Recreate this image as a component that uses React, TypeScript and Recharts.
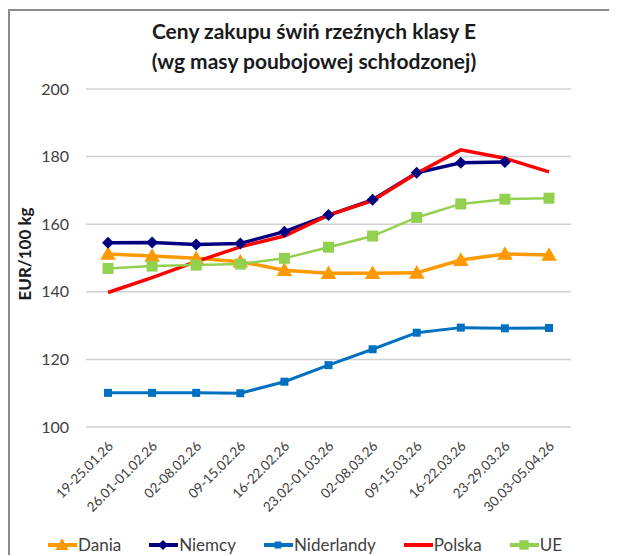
import { LineChart, Line, XAxis, YAxis, CartesianGrid, Legend } from "recharts";

const categories = [
  "19-25.01.26",
  "26.01-01.02.26",
  "02-08.02.26",
  "09-15.02.26",
  "16-22.02.26",
  "23.02-01.03.26",
  "02-08.03.26",
  "09-15.03.26",
  "16-22.03.26",
  "23-29.03.26",
  "30.03-05.04.26",
];
const dania = [151.2, 150.6, 149.9, 148.9, 146.4, 145.5, 145.5, 145.6, 149.4, 151.2, 150.9];
const niemcy = [154.5, 154.6, 154.0, 154.3, 157.8, 162.7, 167.2, 175.2, 178.2, 178.4, null];
const niderlandy = [110.1, 110.1, 110.1, 110.0, 113.4, 118.3, 123.0, 127.9, 129.4, 129.2, 129.3];
const polska = [139.8, 144.2, 148.9, 153.3, 156.5, 162.7, 167.0, 175.1, 182.0, 179.5, 175.5];
const ue = [146.9, 147.6, 147.9, 148.2, 149.9, 153.2, 156.5, 162.0, 166.0, 167.4, 167.7];
const yTicks = [100, 120, 140, 160, 180, 200];

const data = categories.map((c, i) => ({
  name: c,
  Dania: dania[i],
  Niemcy: niemcy[i],
  Niderlandy: niderlandy[i],
  Polska: polska[i],
  UE: ue[i],
}));

const FONT = "Lato, 'Open Sans', sans-serif";
const TEXT = "#404040";

type Shape = "triangle" | "diamond" | "square" | "none";

function markerPath(shape: Shape, cx: number, cy: number, s: number): string | null {
  if (shape === "triangle") {
    return `M${cx},${cy - s * 0.6} L${cx + s * 0.6},${cy + s * 0.45} L${cx - s * 0.6},${cy + s * 0.45} Z`;
  }
  if (shape === "diamond") {
    return `M${cx},${cy - s / 2} L${cx + s / 2},${cy} L${cx},${cy + s / 2} L${cx - s / 2},${cy} Z`;
  }
  if (shape === "square") {
    return `M${cx - s / 2},${cy - s / 2} h${s} v${s} h${-s} Z`;
  }
  return null;
}

function makeDot(shape: Shape, size: number, color: string) {
  return (props: any) => {
    const { cx, cy, index, value } = props;
    if (cx == null || cy == null || value == null) return <g key={index} />;
    const d = markerPath(shape, cx, cy, size);
    if (!d) return <g key={index} />;
    return <path key={index} d={d} fill={color} />;
  };
}

const series = [
  { key: "Dania", color: "#FF9900", width: 3.5, shape: "triangle" as Shape, size: 13 },
  { key: "Niemcy", color: "#000080", width: 3.5, shape: "diamond" as Shape, size: 12 },
  { key: "Niderlandy", color: "#0070C0", width: 3, shape: "square" as Shape, size: 8 },
  { key: "Polska", color: "#FF0000", width: 3.5, shape: "none" as Shape, size: 0 },
  { key: "UE", color: "#92D050", width: 2.5, shape: "square" as Shape, size: 11 },
];

function XTick(props: any) {
  const { x, y, payload } = props;
  const ax = x + 6;
  const ay = y + 12;
  return (
    <text
      x={ax}
      y={ay}
      transform={`rotate(-45, ${ax}, ${ay})`}
      textAnchor="end"
      fontSize={13.5}
      fontFamily={FONT}
      fill={TEXT}
    >
      {payload.value}
    </text>
  );
}

function LegendContent() {
  return (
    <div style={{ display: "flex", paddingLeft: 38, fontFamily: FONT, fontSize: 17, color: TEXT }}>
      {series.map((s) => {
        const d = markerPath(s.shape, 14, 10, s.size * 0.85);
        return (
          <div key={s.key} style={{ display: "flex", alignItems: "center", marginRight: 28 }}>
            <svg width={29} height={20}>
              <line x1={0} y1={10} x2={29} y2={10} stroke={s.color} strokeWidth={4} />
              {d && <path d={d} fill={s.color} />}
            </svg>
            <span style={{ marginLeft: 1 }}>{s.key}</span>
          </div>
        );
      })}
    </div>
  );
}

export default function App() {
  return (
    <div
      style={{
        position: "relative",
        top: 1,
        width: 607,
        height: 545,
        borderTop: "2px solid #8c8c8c",
        borderLeft: "2px solid #8c8c8c",
        fontFamily: FONT,
      }}
    >
      <div
        style={{
          position: "absolute",
          left: 0,
          width: 608,
          top: 5,
          textAlign: "center",
          fontWeight: 700,
          fontSize: 21,
          lineHeight: "30px",
          color: "#1a1a1a",
        }}
      >
        <div>Ceny zakupu świń rzeźnych klasy E</div>
        <div>(wg masy poubojowej schłodzonej)</div>
      </div>
      <LineChart
        width={607}
        height={545}
        data={data}
        margin={{ top: 78, right: 46, left: 0, bottom: 0 }}
      >
        <CartesianGrid vertical={false} stroke="#d0d0d0" strokeWidth={1.5} />
        <XAxis
          dataKey="name"
          axisLine={false}
          tickLine={false}
          interval={0}
          height={107}
          padding={{ left: 22, right: 22 }}
          tick={<XTick />}
        />
        <YAxis
          width={76}
          domain={[100, 200]}
          ticks={yTicks}
          axisLine={false}
          tickLine={false}
          tickSize={0}
          tickMargin={17}
          tick={{ fontSize: 16, fontFamily: FONT, fill: TEXT }}
          label={{
            content: (p: any) => {
              const vb = p.viewBox;
              const cx = vb.x + 14;
              const cy = vb.y + vb.height / 2 - 4;
              return (
                <text
                  x={cx}
                  y={cy}
                  transform={`rotate(-90, ${cx}, ${cy})`}
                  textAnchor="middle"
                  dominantBaseline="central"
                  fontSize={17}
                  fontWeight={700}
                  fontFamily={FONT}
                  fill="#1a1a1a"
                >
                  EUR/100 kg
                </text>
              );
            },
          }}
        />
        <Legend verticalAlign="bottom" height={22} content={<LegendContent />} />
        {series.map((s) => (
          <Line
            key={s.key}
            type="linear"
            dataKey={s.key}
            stroke={s.color}
            strokeWidth={s.width}
            dot={makeDot(s.shape, s.size, s.color)}
            activeDot={false}
            connectNulls={false}
            isAnimationActive={false}
          />
        ))}
      </LineChart>
    </div>
  );
}
